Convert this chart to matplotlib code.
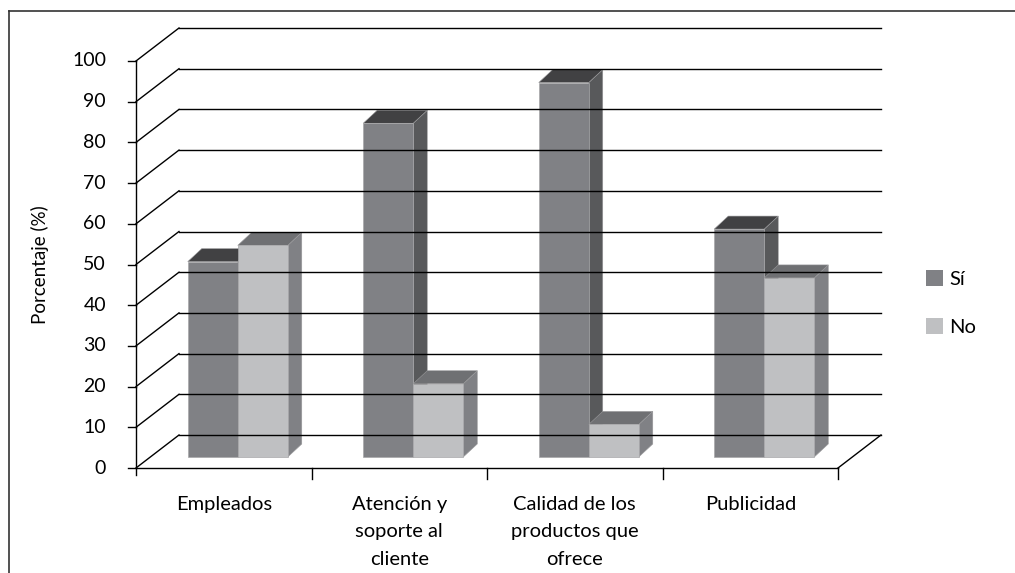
import numpy as np
import matplotlib.pyplot as plt
from matplotlib.patches import Polygon, Patch
from matplotlib.lines import Line2D

plt.rcParams['font.family'] = ['Lato', 'DejaVu Sans']

categorias = ['Empleados', 'Atención y\nsoporte al\ncliente',
              'Calidad de los\nproductos que\nofrece', 'Publicidad']
series = ['Sí', 'No']
valores_si = [48, 82, 92, 56]
valores_no = [52, 18, 8, 44]
marcas_y = list(range(0, 101, 10))

# front, top, side shades for each series
colores = {
    'Sí': ('#808185', '#414143', '#58595b'),
    'No': ('#bfc0c2', '#6f7073', '#808185'),
}

W, H = 1015, 573
fig = plt.figure(figsize=(W / 100, H / 100), dpi=100)
ax = fig.add_axes([0, 0, 1, 1])

# one category = 175.5 px, one percent = 4.07 px
px_cat, px_pct = 175.5, 4.07
x0, y0 = 136, 468
ax.set_xlim(-x0 / px_cat, (W - x0) / px_cat)
ax.set_ylim((y0 - H) / px_pct, y0 / px_pct)
ax.axis('off')

n = len(categorias)
# oblique depth of the walls
DX, DY = 43 / px_cat, 33 / px_pct
# bars: offset of the front face and depth of the box
FX, FY = 14 / px_cat, 11 / px_pct
BX, BY = 14 / px_cat, 13 / px_pct
ancho = 0.285

lw = 1.0
# left wall diagonals and back wall gridlines
for v in marcas_y:
    ax.plot([0, DX], [v, v + DY], color='black', lw=lw)
    ax.plot([DX, n + DX], [v + DY, v + DY], color='black', lw=lw)
    ax.plot([-8 / px_cat, 0], [v, v], color='black', lw=lw)
    ax.text(-30 / px_cat, v, str(v), ha='right', va='center', fontsize=14)

# floor and front axes
ax.plot([0, n], [0, 0], color='black', lw=lw)
ax.plot([n, n + DX], [0, DY], color='black', lw=lw)
ax.plot([0, 0], [-7 / px_pct, 100], color='black', lw=lw)
for i in range(1, n + 1):
    ax.plot([i, i], [0, -11 / px_pct], color='black', lw=lw)

# bars
for i in range(n):
    for j, (nombre, vals) in enumerate([('Sí', valores_si), ('No', valores_no)]):
        v = vals[i]
        l = i + 0.5 + FX - ancho + j * ancho
        r = l + ancho
        b = FY
        frente, tapa, lado = colores[nombre]
        ax.add_patch(Polygon([(r, b), (r + BX, b + BY), (r + BX, b + v + BY), (r, b + v)],
                             closed=True, facecolor=lado, edgecolor='#9a9a9c', lw=0.4))
        ax.add_patch(Polygon([(l, b + v), (r, b + v), (r + BX, b + v + BY), (l + BX, b + v + BY)],
                             closed=True, facecolor=tapa, edgecolor='#9a9a9c', lw=0.4))
        ax.add_patch(Polygon([(l, b), (r, b), (r, b + v), (l, b + v)],
                             closed=True, facecolor=frente, edgecolor='#a8a8aa', lw=0.5))

# category labels
for i, cat in enumerate(categorias):
    ax.text(i + 0.5, -28 / px_pct, cat, ha='center', va='top', fontsize=14.5,
            linespacing=1.75)

ax.text(-96 / px_cat, 50, 'Porcentaje (%)', rotation=90, ha='center', va='center',
        fontsize=13.5)

# legend
manejadores = [Patch(facecolor=colores[s][0], edgecolor='none', label=s) for s in series]
fig.legend(handles=manejadores, loc='upper left', bbox_to_anchor=(926 / W, 1 - 270 / H),
           frameon=False, fontsize=14.5, handlelength=0.85, handleheight=0.85,
           handletextpad=0.3, labelspacing=1.5, borderpad=0, borderaxespad=0)

# outer frame (left and top edges)
fig.add_artist(Line2D([8.5 / W, 8.5 / W], [0, 1 - 10.5 / H], transform=fig.transFigure,
                      color='#333333', lw=1.2))
fig.add_artist(Line2D([8.5 / W, 1], [1 - 10.5 / H, 1 - 10.5 / H], transform=fig.transFigure,
                      color='#333333', lw=1.2))

fig.savefig('out.png', dpi=100)
